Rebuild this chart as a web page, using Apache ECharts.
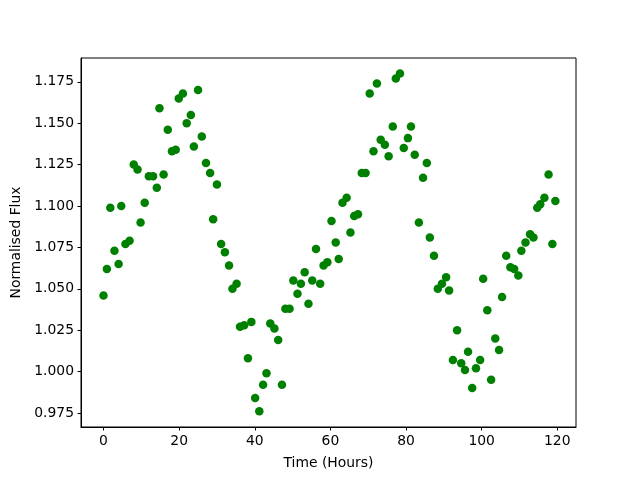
<!DOCTYPE html>
<html>
<head>
<meta charset="utf-8">
<script src="https://cdn.jsdelivr.net/npm/echarts@6/dist/echarts.min.js"></script>
<style>
  html, body { margin: 0; padding: 0; background: #fff; }
  #chart { width: 640px; height: 480px; }
</style>
</head>
<body>
<div id="chart"></div>
<script>
// time in hours
var hours = [0, 0.9, 1.8, 2.9, 4.0, 4.7, 5.8, 6.9, 8.0, 9.0,
  9.8, 10.9, 12.0, 13.1, 14.1, 14.8, 15.9, 17.0, 18.1, 19.1,
  19.9, 21.0, 22.0, 23.1, 23.9, 25.0, 26.0, 27.1, 28.2, 29.0,
  30.0, 31.1, 32.1, 33.2, 34.1, 35.2, 36.1, 37.2, 38.2, 39.1,
  40.1, 41.2, 42.2, 43.1, 44.1, 45.2, 46.2, 47.2, 48.1, 49.2,
  50.2, 51.3, 52.2, 53.2, 54.2, 55.2, 56.2, 57.3, 58.2, 59.2,
  60.3, 61.4, 62.2, 63.2, 64.3, 65.3, 66.3, 67.3, 68.3, 69.3,
  70.4, 71.4, 72.3, 73.3, 74.4, 75.4, 76.5, 77.3, 78.4, 79.4,
  80.5, 81.3, 82.3, 83.4, 84.5, 85.5, 86.3, 87.4, 88.4, 89.5,
  90.6, 91.4, 92.4, 93.5, 94.6, 95.6, 96.4, 97.5, 98.5, 99.6,
  100.4, 101.5, 102.5, 103.6, 104.6, 105.4, 106.5, 107.6, 108.6, 109.7,
  110.5, 111.6, 112.8, 113.7, 114.7, 115.5, 116.6, 117.7, 118.7, 119.5];

var flux = [1.046, 1.062, 1.099, 1.073, 1.065, 1.100, 1.077, 1.079, 1.125, 1.122,
  1.090, 1.102, 1.118, 1.118, 1.111, 1.159, 1.119, 1.146, 1.133, 1.134,
  1.165, 1.168, 1.150, 1.155, 1.136, 1.170, 1.142, 1.126, 1.120, 1.092,
  1.113, 1.077, 1.072, 1.064, 1.050, 1.053, 1.027, 1.028, 1.008, 1.030,
  0.984, 0.976, 0.992, 0.999, 1.029, 1.026, 1.019, 0.992, 1.038, 1.038,
  1.055, 1.047, 1.053, 1.060, 1.041, 1.055, 1.074, 1.053, 1.064, 1.066,
  1.091, 1.078, 1.068, 1.102, 1.105, 1.084, 1.094, 1.095, 1.120, 1.120,
  1.168, 1.133, 1.174, 1.140, 1.137, 1.130, 1.148, 1.177, 1.180, 1.135,
  1.141, 1.148, 1.131, 1.090, 1.117, 1.126, 1.081, 1.070, 1.050, 1.053,
  1.057, 1.049, 1.007, 1.025, 1.005, 1.001, 1.012, 0.990, 1.002, 1.007,
  1.056, 1.037, 0.995, 1.020, 1.013, 1.045, 1.070, 1.063, 1.062, 1.058,
  1.073, 1.078, 1.083, 1.081, 1.099, 1.101, 1.105, 1.119, 1.077, 1.103];

var xTicks = [0, 20, 40, 60, 80, 100, 120];
var yTicks = [0.975, 1.000, 1.025, 1.050, 1.075, 1.100, 1.125, 1.150, 1.175];

var points = hours.map(function (h, i) { return [h, flux[i]]; });

var myChart = echarts.init(document.getElementById('chart'));
var font = 'DejaVu Sans';

var option = {
  animation: false,
  backgroundColor: '#ffffff',
  grid: {
    left: 81, right: 64, top: 58, bottom: 53,
    show: true, borderColor: '#000', borderWidth: 1, backgroundColor: 'transparent'
  },
  xAxis: {
    type: 'value',
    min: -5.95,
    max: 124.95,
    name: 'Time (Hours)',
    nameLocation: 'middle',
    nameGap: 29,
    nameTextStyle: { color: '#000', fontSize: 13.9, fontFamily: font },
    axisLine: { show: true, onZero: false, lineStyle: { color: '#000', width: 1 } },
    axisTick: { show: true, length: 3.5, lineStyle: { color: '#000' }, customValues: xTicks },
    axisLabel: { color: '#000', fontSize: 13.9, fontFamily: font, margin: 7, customValues: xTicks },
    splitLine: { show: false }
  },
  yAxis: {
    type: 'value',
    min: 0.9665,
    max: 1.1894,
    name: 'Normalised Flux',
    nameLocation: 'middle',
    nameGap: 57,
    nameTextStyle: { color: '#000', fontSize: 13.9, fontFamily: font },
    axisLine: { show: true, onZero: false, lineStyle: { color: '#000', width: 1 } },
    axisTick: { show: true, length: 3.5, lineStyle: { color: '#000' }, customValues: yTicks },
    axisLabel: {
      color: '#000', fontSize: 13.9, fontFamily: font, margin: 7, customValues: yTicks,
      formatter: function (v) { return v.toFixed(3); }
    },
    splitLine: { show: false }
  },
  series: [
    {
      type: 'scatter',
      data: points,
      symbol: 'circle',
      symbolSize: 8.5,
      itemStyle: { color: '#008000', opacity: 1 }
    }
  ]
};

myChart.setOption(option);
</script>
</body>
</html>
